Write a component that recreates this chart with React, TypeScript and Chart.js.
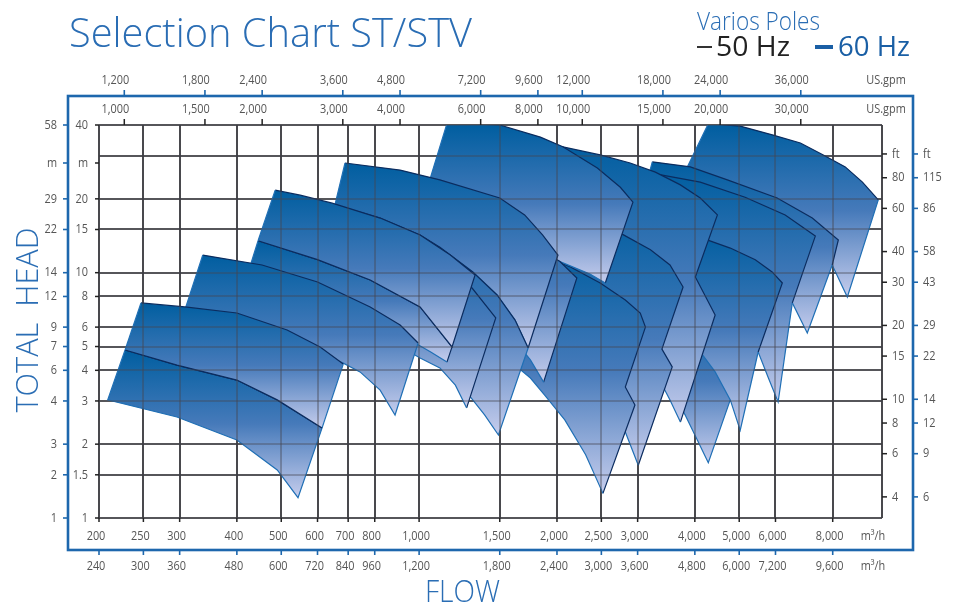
import React, { useEffect, useRef } from 'react';
import { Chart, registerables } from 'chart.js';

Chart.register(...registerables);

type Pt = [number, number];
interface Tile { top: Pt[]; right: Pt[]; bottom: Pt[] }

// ---- axis data ----
const FLOW_MIN = 200;
const FLOW_MAX = 10250;
const HEAD_MIN = 1;
const HEAD_MAX = 40;
const flowGrid = [200, 250, 300, 400, 500, 600, 700, 800, 1000, 1500, 2000, 2500, 3000, 4000, 5000, 6000, 8000, 10250];
const flowTicks = [200, 250, 300, 400, 500, 600, 700, 800, 1000, 1500, 2000, 2500, 3000, 4000, 5000, 6000, 8000];
const flowLabels50 = ['200', '250', '300', '400', '500', '600', '700', '800', '1,000', '1,500', '2,000', '2,500', '3,000', '4,000', '5,000', '6,000', '8,000'];
const flowLabels60 = ['240', '300', '360', '480', '600', '720', '840', '960', '1,200', '1,800', '2,400', '3,000', '3,600', '4,800', '6,000', '7,200', '9,600'];
const gpmTicks = [1000, 1500, 2000, 3000, 4000, 6000, 8000, 10000, 15000, 20000, 30000];
const gpmLabels50 = ['1,000', '1,500', '2,000', '3,000', '4,000', '6,000', '8,000', '10,000', '15,000', '20,000', '30,000'];
const gpmLabels60 = ['1,200', '1,800', '2,400', '3,600', '4,800', '7,200', '9,600', '12,000', '18,000', '24,000', '36,000'];
const headGrid = [1, 1.5, 2, 3, 4, 5, 6, 8, 10, 15, 20, 30, 40];
const headTicks = [1, 1.5, 2, 3, 4, 5, 6, 8, 10, 15, 20, 28, 40];
const headLabels50 = ['1', '1.5', '2', '3', '4', '5', '6', '8', '10', '15', '20', 'm', '40'];
const headLabels60 = ['1', '2', '3', '4', '6', '7', '9', '12', '14', '22', '29', 'm', '58'];
const ftTicks = [4, 6, 8, 10, 15, 20, 30, 40, 60, 80, 100];
const ftLabels50 = ['4', '6', '8', '10', '15', '20', '30', '40', '60', '80', 'ft'];
const ftLabels60 = ['6', '9', '12', '14', '22', '29', '43', '58', '86', '115', 'ft'];
const GPM_PER_M3H = 4.40287;
const M_PER_FT = 0.3048;

// ---- pump tiles: [flow m3/h, head m] ----
const pumpJ: Tile = {
  top: [[4280, 40.5], [5025, 39.6], [5930, 36.4], [6800, 33.8], [7630, 30.2], [8520, 27.0], [9290, 23.4], [10060, 19.8]],
  right: [[8610, 7.96]],
  bottom: [[7980, 10.75], [7220, 13.2], [6150, 15.65], [5025, 18.0], [4110, 19.8], [3640, 21.7]],
};
const pumpG60: Tile = {
  top: [[3230, 28.3], [3910, 27.0], [4710, 23.9], [6050, 20.15], [7220, 16.7], [8230, 13.6]],
  right: [[7980, 10.75], [7040, 5.68]],
  bottom: [[6530, 7.53], [5850, 9.51], [4900, 11.5], [3910, 13.3], [2950, 15.2]],
};
const pumpG50: Tile = {
  top: [[3130, 25.7], [4110, 23.4], [5150, 20.3], [6300, 17.2], [7330, 14.1]],
  right: [[6530, 7.53], [6080, 2.97]],
  bottom: [[5790, 3.72], [5500, 4.75], [4900, 6.29], [4110, 7.89], [3360, 9.16], [2860, 10.3]],
};
const pumpK: Tile = {
  top: [[2610, 7.74], [3360, 6.92], [4110, 6.24], [4900, 5.47], [5230, 5.07]],
  right: [[4780, 3.03], [4280, 1.68]],
  bottom: [[4050, 2.08], [3810, 2.63], [3530, 3.39], [3200, 4.32], [2680, 5.07]],
};
const pumpH: Tile = {
  top: [[3870, 14.65], [4210, 13.7], [4780, 12.6], [5420, 11.3], [5900, 10.07], [6210, 9.08]],
  right: [[5500, 4.75], [5025, 2.28]],
  bottom: [[4780, 3.03], [4430, 3.94], [4010, 5.07], [3530, 6.29], [3200, 7.39]],
};
const pumpF: Tile = {
  top: [[1620, 33.8], [2060, 32.6], [2485, 30.2], [2890, 28.0], [3280, 25.7], [3720, 22.8], [4110, 20.15], [4480, 17.2]],
  right: [[4010, 9.6], [4430, 6.72], [3720, 2.46]],
  bottom: [[3530, 3.03], [3280, 3.94], [2890, 5.31], [2360, 7.05], [1790, 8.5]],
};
const pumpM: Tile = {
  top: [[1980, 17.5], [2485, 16.1], [2750, 14.5], [3200, 12.4], [3530, 10.75], [3770, 8.74]],
  right: [[3390, 4.88], [3570, 4.13], [3010, 1.64]],
  bottom: [[2820, 2.24], [2610, 3.03], [2360, 4.01], [2030, 5.07], [1700, 5.84]],
};
const pumpN: Tile = {
  top: [[1580, 12.6], [1880, 11.7], [2140, 10.55], [2485, 9.08], [2820, 7.74], [3040, 6.85], [3120, 6.0]],
  right: [[2820, 3.42], [2960, 2.89], [2520, 1.26]],
  bottom: [[2310, 1.81], [2080, 2.51], [1880, 3.17], [1750, 3.72], [1620, 4.2]],
};
const pumpE: Tile = {
  top: [[1150, 40.5], [1290, 40.5], [1500, 40], [1840, 35.7], [2060, 32.6], [2450, 26.7], [2750, 22.3], [2930, 19.4]],
  right: [[2550, 9.08]],
  bottom: [[2360, 9.88], [2030, 11.1], [1660, 12.9], [1290, 14.9], [995, 16.7]],
};
const pumpD2: Tile = {
  top: [[782, 21.7], [1005, 19.8], [1290, 17.2], [1580, 14.65], [1840, 12.4], [2030, 11.1], [2210, 9.51]],
  right: [[1870, 3.58]],
  bottom: [[1750, 4.41], [1580, 5.57], [1360, 6.92], [1110, 8.11], [864, 9.34], [751, 11.1]],
};
const pumpD60: Tile = {
  top: [[689, 28.0], [909, 26.2], [1110, 23.9], [1500, 20.15], [1700, 17.2], [1860, 14.25], [2010, 11.8]],
  right: [[1730, 4.93]],
  bottom: [[1620, 6.41], [1480, 8.11], [1310, 10.07], [1110, 12.7], [909, 15.2], [743, 17.7], [655, 18.9]],
};
const pumpD50: Tile = {
  top: [[655, 18.9], [822, 16.7], [1005, 14.25], [1110, 12.7], [1310, 10.07], [1480, 8.11], [1620, 6.41], [1730, 4.93]],
  right: [[1490, 2.18]],
  bottom: [[1390, 2.63], [1290, 3.14], [1140, 4.09], [956, 5.07], [743, 6.41], [602, 7.74]],
};
const pumpC2: Tile = {
  top: [[639, 14.9], [909, 12.4], [1140, 10.45], [1305, 8.66], [1470, 6.54]],
  right: [[1270, 2.81]],
  bottom: [[1200, 3.48], [1110, 4.09], [1005, 4.49], [822, 5.57], [639, 6.41]],
};
const pumpC50: Tile = {
  top: [[445, 13.5], [600, 11.3], [782, 9.34], [1005, 7.25], [1180, 4.98]],
  right: [[1150, 4.32]],
  bottom: [[1060, 4.75], [980, 5.17], [822, 6.12], [639, 7.39], [497, 8.5], [417, 9.16]],
};
const pumpC60: Tile = {
  top: [[485, 21.7], [550, 20.7], [646, 19.2], [822, 16.7], [1005, 14.25], [1170, 11.8], [1325, 9.79]],
  right: [[1180, 4.98]],
  bottom: [[1005, 7.25], [782, 9.34], [600, 11.3], [445, 13.5]],
};
const pumpB: Tile = {
  top: [[337, 11.8], [454, 10.75], [600, 9.16], [782, 7.25], [909, 6.12], [995, 5.17]],
  right: [[886, 2.63]],
  bottom: [[822, 3.32], [743, 3.94], [683, 4.28], [550, 5.07], [428, 5.84], [332, 6.54], [304, 6.54]],
};
const pumpA50: Tile = {
  top: [[228, 4.84], [296, 4.2], [400, 3.65], [490, 3.03], [614, 2.33]],
  right: [[544, 1.21]],
  bottom: [[490, 1.57], [400, 2.08], [296, 2.58], [209, 3.03]],
};
const pumpA60: Tile = {
  top: [[247, 7.53], [308, 7.25], [400, 6.85], [515, 5.84], [608, 4.98], [683, 4.24]],
  right: [[614, 2.33]],
  bottom: [[490, 3.03], [400, 3.65], [296, 4.2], [228, 4.84]],
};

// back to front; navyRight = number of right-edge segments drawn dark
const drawOrder: { tile: Tile; navyRight: number; navyBottom: boolean }[] = [
  { tile: pumpJ, navyRight: 0, navyBottom: false },
  { tile: pumpG60, navyRight: 1, navyBottom: false },
  { tile: pumpG50, navyRight: 1, navyBottom: false },
  { tile: pumpK, navyRight: 0, navyBottom: false },
  { tile: pumpH, navyRight: 1, navyBottom: false },
  { tile: pumpF, navyRight: 3, navyBottom: false },
  { tile: pumpM, navyRight: 3, navyBottom: false },
  { tile: pumpN, navyRight: 3, navyBottom: false },
  { tile: pumpE, navyRight: 1, navyBottom: false },
  { tile: pumpD2, navyRight: 1, navyBottom: false },
  { tile: pumpD60, navyRight: 1, navyBottom: false },
  { tile: pumpD50, navyRight: 0, navyBottom: false },
  { tile: pumpC2, navyRight: 1, navyBottom: false },
  { tile: pumpC50, navyRight: 1, navyBottom: false },
  { tile: pumpC60, navyRight: 1, navyBottom: true },
  { tile: pumpB, navyRight: 0, navyBottom: false },
  { tile: pumpA50, navyRight: 0, navyBottom: false },
  { tile: pumpA60, navyRight: 0, navyBottom: true },
];

const NAVY = '#0b2c5f';
const EDGE = '#1f6fb5';
const BLUE_TXT = '#2a6db4';
const LABEL = '#555555';

function buildDatasets() {
  const front = [...drawOrder].reverse();
  return front.map(({ tile, navyRight, navyBottom }) => {
    const pts = [...tile.top, ...tile.right, ...tile.bottom, tile.top[0]];
    const nTop = tile.top.length;
    const nRight = tile.right.length;
    const nBottom = tile.bottom.length;
    const heads = pts.map((p) => p[1]);
    return {
      data: pts.map(([x, y]) => ({ x, y })),
      headTop: Math.min(Math.max(...heads), HEAD_MAX),
      headBottom: Math.min(...heads),
      showLine: true,
      fill: false,
      pointRadius: 0,
      pointHoverRadius: 0,
      borderWidth: 1.2,
      borderColor: EDGE,
      borderJoinStyle: 'miter',
      tension: 0,
      segment: {
        borderColor: (c: any) => {
          const i = c.p0DataIndex;
          if (i < nTop - 1) return NAVY;
          if (i < nTop - 1 + navyRight) return NAVY;
          if (navyBottom && i >= nTop - 1 + nRight && i < nTop - 1 + nRight + nBottom) return NAVY;
          return EDGE;
        },
      },
    };
  });
}

function txt(ctx: CanvasRenderingContext2D, s: string, x: number, y: number, font: string, color: string,
  align: CanvasTextAlign = 'center', sx = 1, baseline: CanvasTextBaseline = 'middle', fitW = 0) {
  ctx.save();
  ctx.font = font;
  ctx.fillStyle = color;
  ctx.textBaseline = baseline;
  ctx.textAlign = align;
  let k = sx;
  if (fitW > 0) k = fitW / ctx.measureText(s).width;
  ctx.translate(x, y);
  ctx.scale(k, 1);
  ctx.fillText(s, 0, 0);
  ctx.restore();
}

function seg(ctx: CanvasRenderingContext2D, x1: number, y1: number, x2: number, y2: number) {
  ctx.beginPath();
  ctx.moveTo(x1, y1);
  ctx.lineTo(x2, y2);
  ctx.stroke();
}

function drawGrid(chart: any, color: string, width: number) {
  const { ctx, chartArea: a, scales } = chart;
  const xs = scales.x;
  const ys = scales.y;
  ctx.save();
  ctx.beginPath();
  ctx.rect(a.left - 1, a.top - 1, a.right - a.left + 2, a.bottom - a.top + 2);
  ctx.clip();
  ctx.strokeStyle = color;
  ctx.lineWidth = width;
  for (const v of flowGrid) {
    const px = Math.round(xs.getPixelForValue(v));
    seg(ctx, px, a.top, px, a.bottom);
  }
  for (const v of headGrid) {
    const py = Math.round(ys.getPixelForValue(v));
    seg(ctx, a.left, py, a.right, py);
  }
  ctx.restore();
}

// fills each tile (from the dataset's own scaled points) just before its outline is drawn
const tileFillPlugin = {
  id: 'tileFill',
  beforeDatasetDraw(chart: any, args: any) {
    const { ctx, chartArea: a, scales } = chart;
    const ds: any = chart.data.datasets[args.index];
    const pts = args.meta.data;
    if (!pts || !pts.length) return;
    const y0 = scales.y.getPixelForValue(ds.headTop);
    const y1 = scales.y.getPixelForValue(ds.headBottom);
    const g = ctx.createLinearGradient(0, y0, 0, y1);
    g.addColorStop(0, 'rgb(0,94,160)');
    g.addColorStop(0.5, 'rgb(70,122,186)');
    g.addColorStop(1, 'rgb(198,205,237)');
    ctx.save();
    ctx.beginPath();
    ctx.rect(a.left, a.top, a.right - a.left, a.bottom - a.top);
    ctx.clip();
    ctx.beginPath();
    pts.forEach((p: any, i: number) => (i ? ctx.lineTo(p.x, p.y) : ctx.moveTo(p.x, p.y)));
    ctx.closePath();
    ctx.fillStyle = g;
    ctx.fill();
    ctx.restore();
  },
};

const decorPlugin = {
  id: 'decor',
  beforeDatasetsDraw(chart: any) {
    drawGrid(chart, '#2c2c2c', 1.7);
  },
  afterDatasetsDraw(chart: any) {
    drawGrid(chart, 'rgba(70,70,80,0.5)', 1.6);
  },
  afterDraw(chart: any) {
    const { ctx, chartArea: a, scales } = chart;
    const xs = scales.x;
    const ys = scales.y;
    const font = '13px "Open Sans"';
    const lab = (s: string, px: number, py: number, align: CanvasTextAlign = 'center') =>
      txt(ctx, s, px, py, font, LABEL, align, 0.84);

    // tick marks on plot edges
    ctx.save();
    ctx.strokeStyle = '#222';
    ctx.lineWidth = 1.5;
    headTicks.forEach((h) => { const py = ys.getPixelForValue(h); seg(ctx, a.left - 4, py, a.left, py); });
    ftTicks.forEach((f) => { const py = ys.getPixelForValue(f * M_PER_FT); seg(ctx, a.right, py, a.right + 5, py); });
    gpmTicks.forEach((g) => { const px = xs.getPixelForValue(g / GPM_PER_M3H); seg(ctx, px, a.top - 6, px, a.top); });
    flowTicks.forEach((v) => { const px = xs.getPixelForValue(v); seg(ctx, px, a.bottom, px, a.bottom + 4); });
    ctx.restore();

    // blue frame
    const F = { l: a.left - 31, t: a.top - 29, r: a.right + 31, b: a.bottom + 32 };
    ctx.save();
    ctx.strokeStyle = '#1d67ad';
    ctx.lineWidth = 2.6;
    ctx.strokeRect(F.l, F.t, F.r - F.l, F.b - F.t);
    ctx.lineWidth = 1.6;
    headTicks.forEach((h) => { const py = ys.getPixelForValue(h); seg(ctx, F.l - 5, py, F.l, py); });
    ftTicks.forEach((f) => { const py = ys.getPixelForValue(f * M_PER_FT); seg(ctx, F.r, py, F.r + 5, py); });
    gpmTicks.forEach((g) => { const px = xs.getPixelForValue(g / GPM_PER_M3H); seg(ctx, px, F.t - 6, px, F.t); });
    flowTicks.forEach((v) => { const px = xs.getPixelForValue(v); seg(ctx, px, F.b, px, F.b + 5); });
    ctx.restore();

    // tick labels
    flowTicks.forEach((v, i) => lab(flowLabels50[i], xs.getPixelForValue(v) - 3, a.bottom + 18));
    flowTicks.forEach((v, i) => lab(flowLabels60[i], xs.getPixelForValue(v) - 3, a.bottom + 48));
    lab('m³/h', a.right - 9, a.bottom + 18);
    lab('m³/h', a.right - 9, a.bottom + 48);
    gpmTicks.forEach((g, i) => lab(gpmLabels50[i], xs.getPixelForValue(g / GPM_PER_M3H) - 9, a.top - 16));
    gpmTicks.forEach((g, i) => lab(gpmLabels60[i], xs.getPixelForValue(g / GPM_PER_M3H) - 9, a.top - 45));
    lab('US.gpm', a.right + 4, a.top - 16);
    lab('US.gpm', a.right + 4, a.top - 45);
    headTicks.forEach((h, i) => lab(headLabels50[i], a.left - 11, ys.getPixelForValue(h), 'right'));
    headTicks.forEach((h, i) => lab(headLabels60[i], a.left - 42, ys.getPixelForValue(h), 'right'));
    ftTicks.forEach((f, i) => lab(ftLabels50[i], a.right + 10, ys.getPixelForValue(f * M_PER_FT), 'left'));
    ftTicks.forEach((f, i) => lab(ftLabels60[i], a.right + 41, ys.getPixelForValue(f * M_PER_FT), 'left'));

    // titles
    txt(ctx, 'Selection Chart ST/STV', 69, 47, '300 41px "Open Sans"', BLUE_TXT, 'left', 1, 'alphabetic', 403);
    txt(ctx, 'Varios Poles', 697, 30, '300 26px "Open Sans"', BLUE_TXT, 'left', 1, 'alphabetic', 123);
    ctx.save();
    ctx.strokeStyle = '#333';
    ctx.lineWidth = 2;
    seg(ctx, 697, 47, 712, 47);
    ctx.strokeStyle = '#1a5fa5';
    ctx.lineWidth = 4;
    seg(ctx, 815, 47, 833, 47);
    ctx.restore();
    txt(ctx, '50 Hz', 716, 56, '27px "Open Sans"', '#222', 'left', 1, 'alphabetic', 74);
    txt(ctx, '60 Hz', 838, 56, '27px "Open Sans"', '#1a5fa5', 'left', 1, 'alphabetic', 72);

    // axis titles
    ctx.save();
    ctx.translate(38, 320);
    ctx.rotate(-Math.PI / 2);
    txt(ctx, 'TOTAL  HEAD', 0, 0, '300 32px "Open Sans"', BLUE_TXT, 'center', 1, 'alphabetic', 185);
    ctx.restore();
    txt(ctx, 'FLOW', 425, 602, '300 32px "Open Sans"', BLUE_TXT, 'left', 1, 'alphabetic', 75);
  },
};

export default function App() {
  const ref = useRef<HTMLCanvasElement | null>(null);
  useEffect(() => {
    if (!ref.current) return;
    const chart = new Chart(ref.current, {
      type: 'scatter',
      data: { datasets: buildDatasets() as any },
      options: {
        responsive: false,
        animation: false,
        events: [],
        layout: { padding: { left: 99, top: 125, right: 76, bottom: 85 } },
        scales: {
          x: { type: 'logarithmic', min: FLOW_MIN, max: FLOW_MAX, display: false },
          y: { type: 'logarithmic', min: HEAD_MIN, max: HEAD_MAX, display: false },
        },
        plugins: {
          legend: { display: false },
          tooltip: { enabled: false },
          title: { display: false },
        },
      } as any,
      plugins: [tileFillPlugin, decorPlugin],
    });
    return () => chart.destroy();
  }, []);
  return (
    <div style={{ position: 'absolute', left: 0, top: 0, width: 958, height: 603, background: '#fff' }}>
      <canvas ref={ref} width={958} height={603} style={{ display: 'block' }} />
    </div>
  );
}
